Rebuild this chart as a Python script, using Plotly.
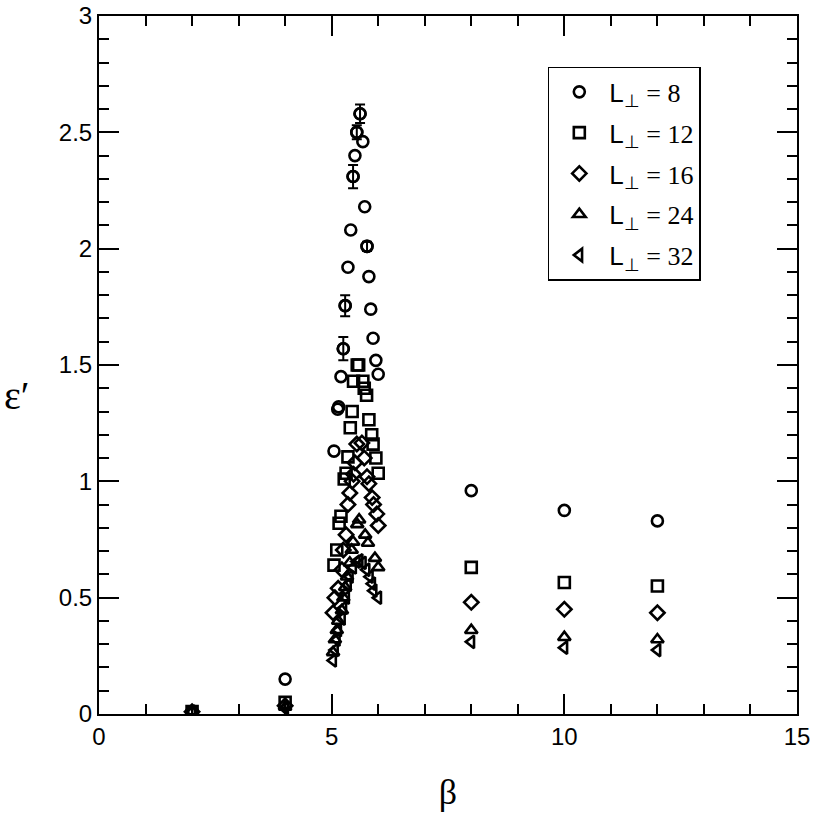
import plotly.graph_objects as go

# L_perp = 8 (circles)
beta_8 = [2, 4, 5.05, 5.13, 5.15, 5.2, 5.25, 5.29, 5.35, 5.41, 5.46, 5.5, 5.54, 5.61, 5.67, 5.71, 5.76, 5.80, 5.84, 5.89, 5.95, 6.0, 8, 10, 12]
eps_8 = [0.01, 0.15, 1.13, 1.31, 1.32, 1.45, 1.57, 1.755, 1.92, 2.08, 2.31, 2.40, 2.50, 2.58, 2.46, 2.18, 2.01, 1.88, 1.74, 1.615, 1.52, 1.46, 0.96, 0.875, 0.83]
err_8 = [0, 0, 0, 0, 0, 0, 0.05, 0.045, 0, 0, 0.05, 0, 0.03, 0.04, 0, 0, 0.02, 0, 0, 0, 0, 0, 0, 0, 0]

# L_perp = 12 (squares)
beta_12 = [2, 4, 5.05, 5.11, 5.16, 5.2, 5.27, 5.31, 5.35, 5.40, 5.44, 5.47, 5.55, 5.58, 5.67, 5.70, 5.75, 5.80, 5.86, 5.89, 5.95, 6.0, 8, 10, 12]
eps_12 = [0.01, 0.05, 0.64, 0.705, 0.82, 0.85, 1.01, 1.035, 1.105, 1.23, 1.30, 1.43, 1.50, 1.50, 1.43, 1.40, 1.37, 1.265, 1.20, 1.16, 1.10, 1.035, 0.63, 0.565, 0.55]

# L_perp = 16 (diamonds)
beta_16 = [2, 4, 5.03, 5.07, 5.14, 5.22, 5.25, 5.31, 5.35, 5.39, 5.44, 5.47, 5.5, 5.54, 5.65, 5.70, 5.76, 5.80, 5.87, 5.9, 5.97, 6.0, 8, 10, 12]
eps_16 = [0.01, 0.035, 0.435, 0.50, 0.54, 0.62, 0.705, 0.77, 0.90, 0.95, 1.00, 1.03, 1.08, 1.16, 1.165, 1.10, 1.02, 0.99, 0.93, 0.90, 0.86, 0.81, 0.48, 0.45, 0.435]

# L_perp = 24 (triangles up)
beta_24 = [2, 4, 5.03, 5.07, 5.11, 5.14, 5.22, 5.25, 5.29, 5.33, 5.39, 5.43, 5.46, 5.55, 5.59, 5.72, 5.78, 5.93, 6.0, 8, 10, 12]
eps_24 = [0.01, 0.03, 0.265, 0.32, 0.36, 0.40, 0.445, 0.50, 0.545, 0.59, 0.65, 0.705, 0.74, 0.815, 0.835, 0.77, 0.735, 0.67, 0.63, 0.36, 0.33, 0.32]

# L_perp = 32 (triangles left)
beta_32 = [2, 4, 5.03, 5.07, 5.11, 5.14, 5.22, 5.25, 5.31, 5.35, 5.39, 5.46, 5.54, 5.6, 5.67, 5.75, 5.82, 5.87, 5.9, 6.0, 8, 10, 12]
eps_32 = [0.01, 0.025, 0.23, 0.275, 0.32, 0.36, 0.41, 0.455, 0.50, 0.555, 0.59, 0.63, 0.655, 0.66, 0.65, 0.62, 0.59, 0.56, 0.53, 0.50, 0.31, 0.285, 0.275]

labels = ["8", "12", "16", "24", "32"]

def legname(v):
    return ('<span style="font-family:Liberation Sans">L<sub>⊥</sub></span>'
            '<span style="font-family:Liberation Serif"> = ' + v + '</span>')

series = [
    (beta_8, eps_8, "circle-open", labels[0], err_8),
    (beta_12, eps_12, "square-open", labels[1], None),
    (beta_16, eps_16, "diamond-open", labels[2], None),
    (beta_24, eps_24, "triangle-up-open", labels[3], None),
    (beta_32, eps_32, "triangle-left-open", labels[4], None),
]

fig = go.Figure()
for i, (bx, ey, sym, lab, err) in enumerate(series):
    mk = dict(symbol=sym, size=11, color="black", line=dict(width=2.6, color="black"))
    fig.add_trace(go.Scatter(
        x=bx, y=ey, mode="markers", name=legname(lab), legendgroup="g" + str(i),
        marker=mk))
    if err is not None:
        idx = [k for k, e in enumerate(err) if e > 0]
        fig.add_trace(go.Scatter(
            x=[bx[k] for k in idx], y=[ey[k] for k in idx], mode="markers",
            legendgroup="g" + str(i), showlegend=False, marker=mk,
            error_y=dict(type="data", array=[err[k] for k in idx], visible=True,
                         color="black", thickness=2, width=5)))

axis_common = dict(showline=True, linecolor="black", linewidth=2, mirror="ticks",
                   ticks="inside", ticklen=20, tickwidth=2, tickcolor="black",
                   showgrid=False, zeroline=False, automargin=False,
                   ticklabeloverflow="allow",
                   tickfont=dict(family="Liberation Sans", size=24, color="black"))

fig.update_xaxes(range=[0, 15], dtick=5, tick0=0,
                 minor=dict(ticks="inside", ticklen=10, tickwidth=2, dtick=1, tickcolor="black"),
                 title=dict(text="β", font=dict(family="Liberation Serif", size=36, color="black"), standoff=30),
                 **axis_common)
fig.update_yaxes(range=[0, 3], dtick=0.5, tick0=0,
                 minor=dict(ticks="inside", ticklen=10, tickwidth=2, dtick=0.1, tickcolor="black"),
                 **axis_common)

fig.add_annotation(text="ε′", xref="paper", yref="paper", x=-0.117, y=0.457,
                   xanchor="center", yanchor="middle",
                   showarrow=False, font=dict(family="Liberation Serif", size=40, color="black"))

fig.update_layout(
    width=817, height=821,
    margin=dict(l=99, r=20, t=16, b=107, autoexpand=False),
    plot_bgcolor="white", paper_bgcolor="white",
    legend=dict(x=0.643, y=0.927, xanchor="left", yanchor="top",
                bordercolor="black", borderwidth=1.5, bgcolor="white",
                font=dict(family="Liberation Serif", size=26, color="black"),
                tracegroupgap=4, itemwidth=50),
    showlegend=True,
)

fig.write_html("out.html", config={"displayModeBar": False},
               post_script="document.body.style.margin='0';document.body.style.overflow='hidden';")
